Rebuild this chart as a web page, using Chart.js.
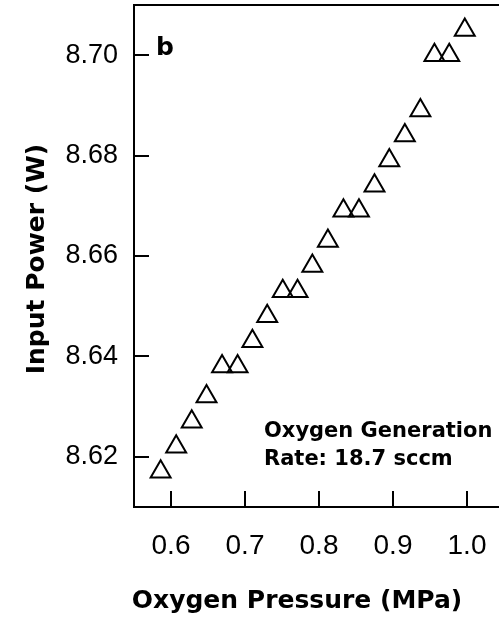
<!DOCTYPE html>
<html>
<head>
<meta charset="utf-8">
<script src="https://cdn.jsdelivr.net/npm/chart.js@4/dist/chart.umd.min.js"></script>
<style>
  html, body { margin: 0; padding: 0; background: #fff; overflow: hidden; }
  #wrap { width: 499px; height: 619px; }
</style>
</head>
<body>
<div id="wrap"><canvas id="powerChart" width="499" height="619"></canvas></div>
<script>
// Data
const pressure = [0.586, 0.607, 0.628, 0.648, 0.669, 0.690, 0.710, 0.730, 0.751, 0.771, 0.791,
                  0.812, 0.833, 0.854, 0.875, 0.895, 0.916, 0.937, 0.956, 0.976, 0.997];
const inputPower = [8.617, 8.622, 8.627, 8.632, 8.638, 8.638, 8.643, 8.648, 8.653, 8.653, 8.658,
                    8.663, 8.669, 8.669, 8.674, 8.679, 8.684, 8.689, 8.700, 8.700, 8.705];
const xTicks = [0.6, 0.7, 0.8, 0.9, 1.0];
const yTicks = [8.62, 8.64, 8.66, 8.68, 8.70];
const panelLabel = 'b';
const xTitle = 'Oxygen Pressure (MPa)';
const yTitle = 'Input Power (W)';
const noteLines = ['Oxygen Generation', 'Rate: 18.7 sccm'];

const boldFont = '"DejaVu Sans", sans-serif';
const tickFont = '"Liberation Sans", Arial, sans-serif';

// Frame, inward ticks and text drawn on top of the chart
const framePlugin = {
    id: 'frame',
    afterDraw(chart) {
        const ctx = chart.ctx;
        const area = chart.chartArea;
        const xs = chart.scales.x;
        const ys = chart.scales.y;
        ctx.save();
        ctx.strokeStyle = '#000';
        ctx.lineWidth = 2;
        ctx.beginPath();
        // top border
        ctx.moveTo(area.left, area.top);
        ctx.lineTo(area.right, area.top);
        // inward ticks
        yTicks.forEach(v => {
            const py = Math.round(ys.getPixelForValue(v));
            ctx.moveTo(area.left, py);
            ctx.lineTo(area.left + 15, py);
        });
        xTicks.forEach(v => {
            const px = Math.round(xs.getPixelForValue(v));
            ctx.moveTo(px, area.bottom);
            ctx.lineTo(px, area.bottom - 16);
        });
        ctx.stroke();

        ctx.fillStyle = '#000';
        ctx.font = 'bold 25px ' + boldFont;
        ctx.textAlign = 'left';
        ctx.textBaseline = 'alphabetic';
        ctx.fillText(panelLabel, 156, 55);

        ctx.textAlign = 'center';
        ctx.fillText(xTitle, 297, 608);

        ctx.save();
        ctx.translate(44, 259);
        ctx.rotate(-Math.PI / 2);
        ctx.fillText(yTitle, 0, 0);
        ctx.restore();

        ctx.font = 'bold 21px ' + boldFont;
        ctx.textAlign = 'left';
        ctx.fillText(noteLines[0], 264, 437);
        ctx.fillText(noteLines[1], 264, 465);
        ctx.restore();
    }
};

const ctx = document.getElementById('powerChart').getContext('2d');
new Chart(ctx, {
    type: 'scatter',
    data: {
        datasets: [{
            data: pressure.map((p, i) => ({ x: p, y: inputPower[i] })),
            pointStyle: 'triangle',
            pointRadius: 11.5,
            pointHoverRadius: 11.5,
            pointBorderWidth: 2,
            pointBorderColor: '#000',
            pointBackgroundColor: 'rgba(255,255,255,0)',
            showLine: false,
            clip: false
        }]
    },
    options: {
        responsive: false,
        animation: false,
        layout: { autoPadding: false, padding: { top: 5, right: 0, left: 0, bottom: 0 } },
        plugins: {
            legend: { display: false },
            tooltip: { enabled: false }
        },
        scales: {
            x: {
                type: 'linear',
                min: 0.55,
                max: 0.55 + 365 / 740,
                afterBuildTicks: scale => { scale.ticks = xTicks.map(v => ({ value: v })); },
                afterFit: scale => {
                    scale.height = 112;
                    scale.paddingLeft = 0;
                    scale.paddingRight = 0;
                },
                grid: { display: false, drawTicks: false },
                border: { display: true, color: '#000', width: 2 },
                ticks: {
                    padding: 22,
                    color: '#000',
                    font: { family: tickFont, size: 28 },
                    maxRotation: 0,
                    callback: v => v.toFixed(1)
                }
            },
            y: {
                type: 'linear',
                min: 8.61,
                max: 8.71,
                afterBuildTicks: scale => { scale.ticks = yTicks.map(v => ({ value: v })); },
                afterFit: scale => {
                    scale.width = 134;
                    scale.paddingTop = 0;
                    scale.paddingBottom = 0;
                },
                grid: { display: false, drawTicks: false },
                border: { display: true, color: '#000', width: 2 },
                ticks: {
                    padding: 16,
                    color: '#000',
                    font: { family: tickFont, size: 27 },
                    callback: v => v.toFixed(2)
                }
            }
        }
    },
    plugins: [framePlugin]
});
</script>
</body>
</html>
